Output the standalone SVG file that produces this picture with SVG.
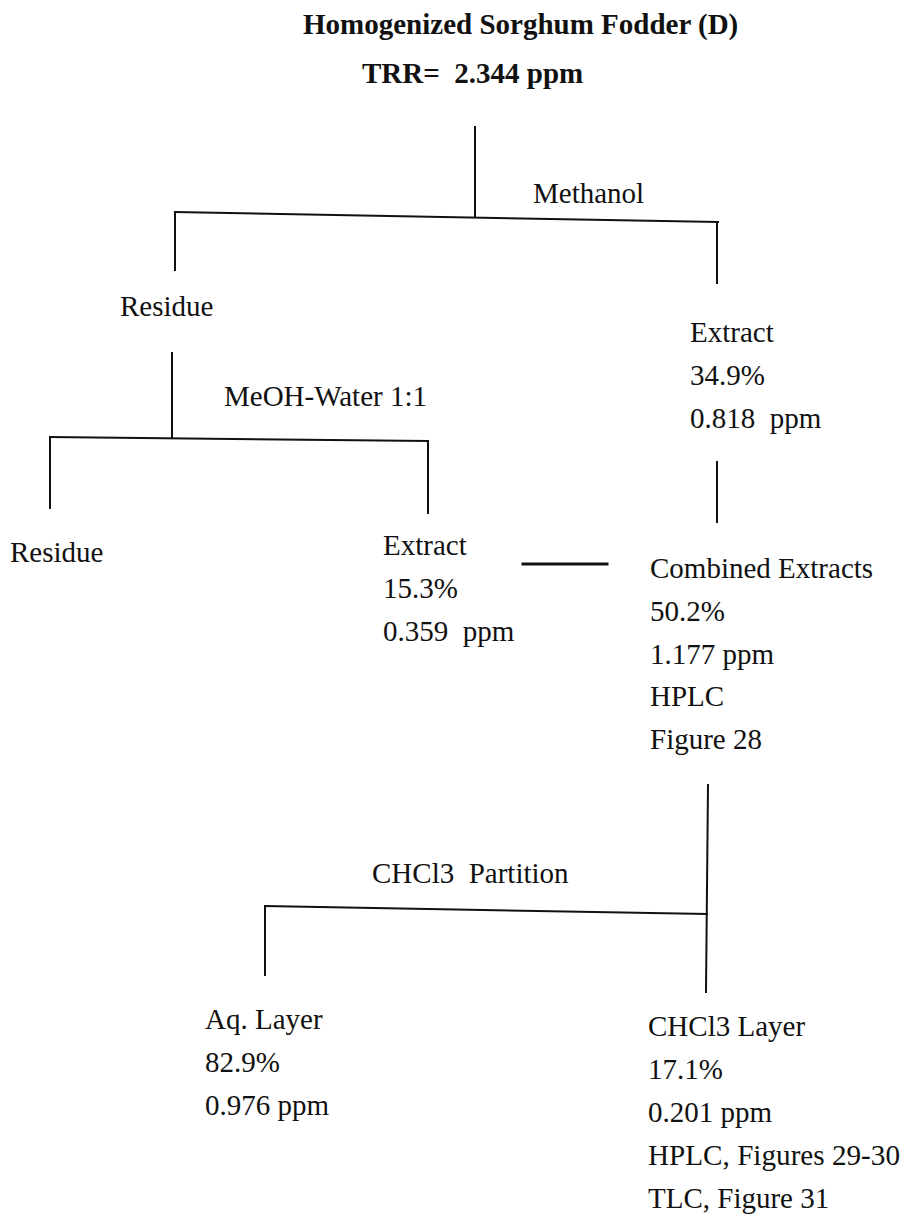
<svg xmlns="http://www.w3.org/2000/svg" width="904" height="1217" viewBox="0 0 904 1217">
<style>
text{font-family:"Liberation Serif","Times New Roman",serif;font-size:29px;fill:#111}
.t{font-weight:bold;font-size:29px}
.c line{stroke:#111;stroke-width:2;stroke-linecap:square}
</style>
<rect width="904" height="1217" fill="#fff"/>
<g class="c" id="connectors">
<line x1="475" y1="127" x2="475" y2="216"/>
<line x1="175" y1="212" x2="718" y2="222"/>
<line x1="175" y1="212" x2="175" y2="270"/>
<line x1="717" y1="222" x2="717" y2="283"/>
<line x1="172" y1="353" x2="172" y2="438"/>
<line x1="50" y1="437" x2="428" y2="441"/>
<line x1="50" y1="437" x2="50" y2="508"/>
<line x1="428" y1="441" x2="428" y2="513"/>
<line x1="717" y1="462" x2="717" y2="522"/>
<line x1="523" y1="564" x2="607" y2="564" style="stroke-width:3"/>
<line x1="708" y1="785" x2="706" y2="992"/>
<line x1="265" y1="906" x2="707" y2="914"/>
<line x1="265" y1="906" x2="265" y2="975"/>
</g>
<g id="root"><text class="t" x="303" y="34">Homogenized Sorghum Fodder (D)</text><text class="t" x="362" y="83" xml:space="preserve">TRR=  2.344 ppm</text></g>
<g id="lbl-methanol"><text x="533" y="203">Methanol</text></g>
<g id="residue1"><text x="120" y="316">Residue</text></g>
<g id="extract1"><text x="690" y="342">Extract</text><text x="690" y="385">34.9%</text><text x="690" y="428" xml:space="preserve">0.818  ppm</text></g>
<g id="lbl-meoh"><text x="224" y="406">MeOH-Water 1:1</text></g>
<g id="residue2"><text x="10" y="562">Residue</text></g>
<g id="extract2"><text x="383" y="555">Extract</text><text x="383" y="598">15.3%</text><text x="383" y="641" xml:space="preserve">0.359  ppm</text></g>
<g id="combined"><text x="650" y="578">Combined Extracts</text><text x="650" y="621">50.2%</text><text x="650" y="664">1.177 ppm</text><text x="650" y="706">HPLC</text><text x="650" y="749">Figure 28</text></g>
<g id="lbl-chcl3"><text x="372" y="883" xml:space="preserve">CHCl3  Partition</text></g>
<g id="aq"><text x="205" y="1029">Aq. Layer</text><text x="205" y="1072">82.9%</text><text x="205" y="1115">0.976 ppm</text></g>
<g id="chcl3layer"><text x="648" y="1036">CHCl3 Layer</text><text x="648" y="1079">17.1%</text><text x="648" y="1122">0.201 ppm</text><text x="648" y="1165" textLength="252" lengthAdjust="spacingAndGlyphs">HPLC, Figures 29-30</text><text x="648" y="1208">TLC, Figure 31</text></g>
</svg>
